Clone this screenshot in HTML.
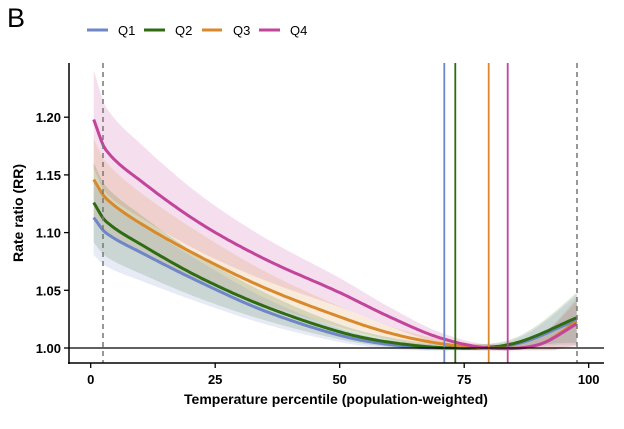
<!DOCTYPE html><html><head><style>body{margin:0;background:#fff}svg{font-family:"Liberation Sans",Arial,sans-serif}</style></head><body>
<svg id="s" width="624" height="424" xmlns="http://www.w3.org/2000/svg">
<text x="7" y="27" font-size="27">B</text>
<g font-size="13">
<line x1="87" y1="30" x2="108" y2="30" stroke="#6f86c8" stroke-width="3"/><text x="118" y="35">Q1</text>
<line x1="144" y1="30" x2="165" y2="30" stroke="#2e6b12" stroke-width="3"/><text x="175" y="35">Q2</text>
<line x1="202" y1="30" x2="222" y2="30" stroke="#d9892b" stroke-width="3"/><text x="233" y="35">Q3</text>
<line x1="259" y1="30" x2="280" y2="30" stroke="#c2449b" stroke-width="3"/><text x="290" y="35">Q4</text>
</g>
<g id="bands"></g><g id="lines"></g>
<line x1="103" y1="63" x2="103" y2="363" stroke="#777" stroke-width="1.5" stroke-dasharray="5,4"/>
<line x1="577" y1="63" x2="577" y2="363" stroke="#777" stroke-width="1.5" stroke-dasharray="5,4"/>
<line x1="444.3" y1="63" x2="444.3" y2="363" stroke="#6f86c8" stroke-width="1.8"/>
<line x1="455.3" y1="63" x2="455.3" y2="363" stroke="#2e6b12" stroke-width="1.8"/>
<line x1="488.7" y1="63" x2="488.7" y2="363" stroke="#d9892b" stroke-width="1.8"/>
<line x1="507.7" y1="63" x2="507.7" y2="363" stroke="#c2449b" stroke-width="1.8"/>
<line x1="69" y1="348" x2="604" y2="348" stroke="#000" stroke-width="1.3"/>
<line x1="69" y1="63" x2="69" y2="364" stroke="#000" stroke-width="1.5"/>
<line x1="68" y1="363" x2="604" y2="363" stroke="#000" stroke-width="1.5"/>
<g font-size="13" font-weight="bold" text-anchor="end" id="yt"></g>
<g font-size="13" font-weight="bold" text-anchor="middle" id="xt"></g>
<text x="336" y="404" font-size="14" font-weight="bold" text-anchor="middle">Temperature percentile (population-weighted)</text>
<text transform="translate(23,213) rotate(-90)" font-size="14" font-weight="bold" text-anchor="middle">Rate ratio (RR)</text>
</svg>
<script>
const X=p=>90.7+4.98*p, Y=v=>348-(v-1)*1154;
const ns="http://www.w3.org/2000/svg";
function el(t,a,par){const e=document.createElementNS(ns,t);for(const k in a)e.setAttribute(k,a[k]);document.getElementById(par).appendChild(e);return e;}
[1.0,1.05,1.10,1.15,1.20].forEach(v=>{el('line',{x1:64,x2:69,y1:Y(v),y2:Y(v),stroke:'#000','stroke-width':1.3},'yt');el('text',{x:61,y:Y(v)+5},'yt').textContent=v.toFixed(2);});
[0,25,50,75,100].forEach(p=>{el('line',{x1:X(p),x2:X(p),y1:363,y2:368,stroke:'#000','stroke-width':1.3},'xt');el('text',{x:X(p),y:384},'xt').textContent=p;});
const S=[
{c:'#6f86c8',k:.26,pts:[[0.6,1.113],[3,1.10],[10,1.083],[22,1.057],[35,1.032],[50,1.011],[60,1.003],[71,1.0],[85,1.003],[98,1.025]]},
{c:'#2e6b12',k:.25,pts:[[0.6,1.126],[3,1.11],[10,1.09],[22,1.061],[35,1.036],[50,1.014],[60,1.005],[73,1.0],[85,1.004],[98,1.027]]},
{c:'#d9892b',k:.22,pts:[[0.6,1.146],[3,1.13],[10,1.108],[22,1.079],[35,1.052],[50,1.027],[60,1.013],[70,1.004],[80,1.0],[90,1.003],[98,1.024]]},
{c:'#c2449b',k:.2,pts:[[0.6,1.198],[3,1.172],[10,1.145],[22,1.108],[35,1.077],[50,1.048],[60,1.027],[70,1.009],[80,1.0],[90,1.003],[98,1.022]]}];
function interp(pts,p){let i=0;while(i<pts.length-2&&p>pts[i+1][0])i++;
const p0=pts[Math.max(0,i-1)],p1=pts[i],p2=pts[i+1],p3=pts[Math.min(pts.length-1,i+2)];
const t=(p-p1[0])/(p2[0]-p1[0]);const m1=(p2[1]-p0[1])/(p2[0]-p0[0])*(p2[0]-p1[0]),m2=(p3[1]-p1[1])/(p3[0]-p1[0])*(p2[0]-p1[0]);
const t2=t*t,t3=t2*t;return (2*t3-3*t2+1)*p1[1]+(t3-2*t2+t)*m1+(-2*t3+3*t2)*p2[1]+(t3-t2)*m2;}
[...S].reverse().forEach(s=>{let up=[],lo=[],ln=[];
for(let p=0.6;p<=98.01;p+=0.5){const v=interp(s.pts,p);let w=s.k*(v-1)+0.003+0.013*Math.pow(Math.max(0,(p-82)/16),2);
up.push(X(p).toFixed(1)+','+Y(v+w).toFixed(1));lo.unshift(X(p).toFixed(1)+','+Y(Math.max(0.998,v-w)).toFixed(1));ln.push(X(p).toFixed(1)+','+Y(v).toFixed(1));}
el('polygon',{points:up.concat(lo).join(' '),fill:s.c,'fill-opacity':.17},'bands');
s.ln=ln;});
S.forEach(s=>el('polyline',{points:s.ln.join(' '),fill:'none',stroke:s.c,'stroke-width':3},'lines'));
</script></body></html>
